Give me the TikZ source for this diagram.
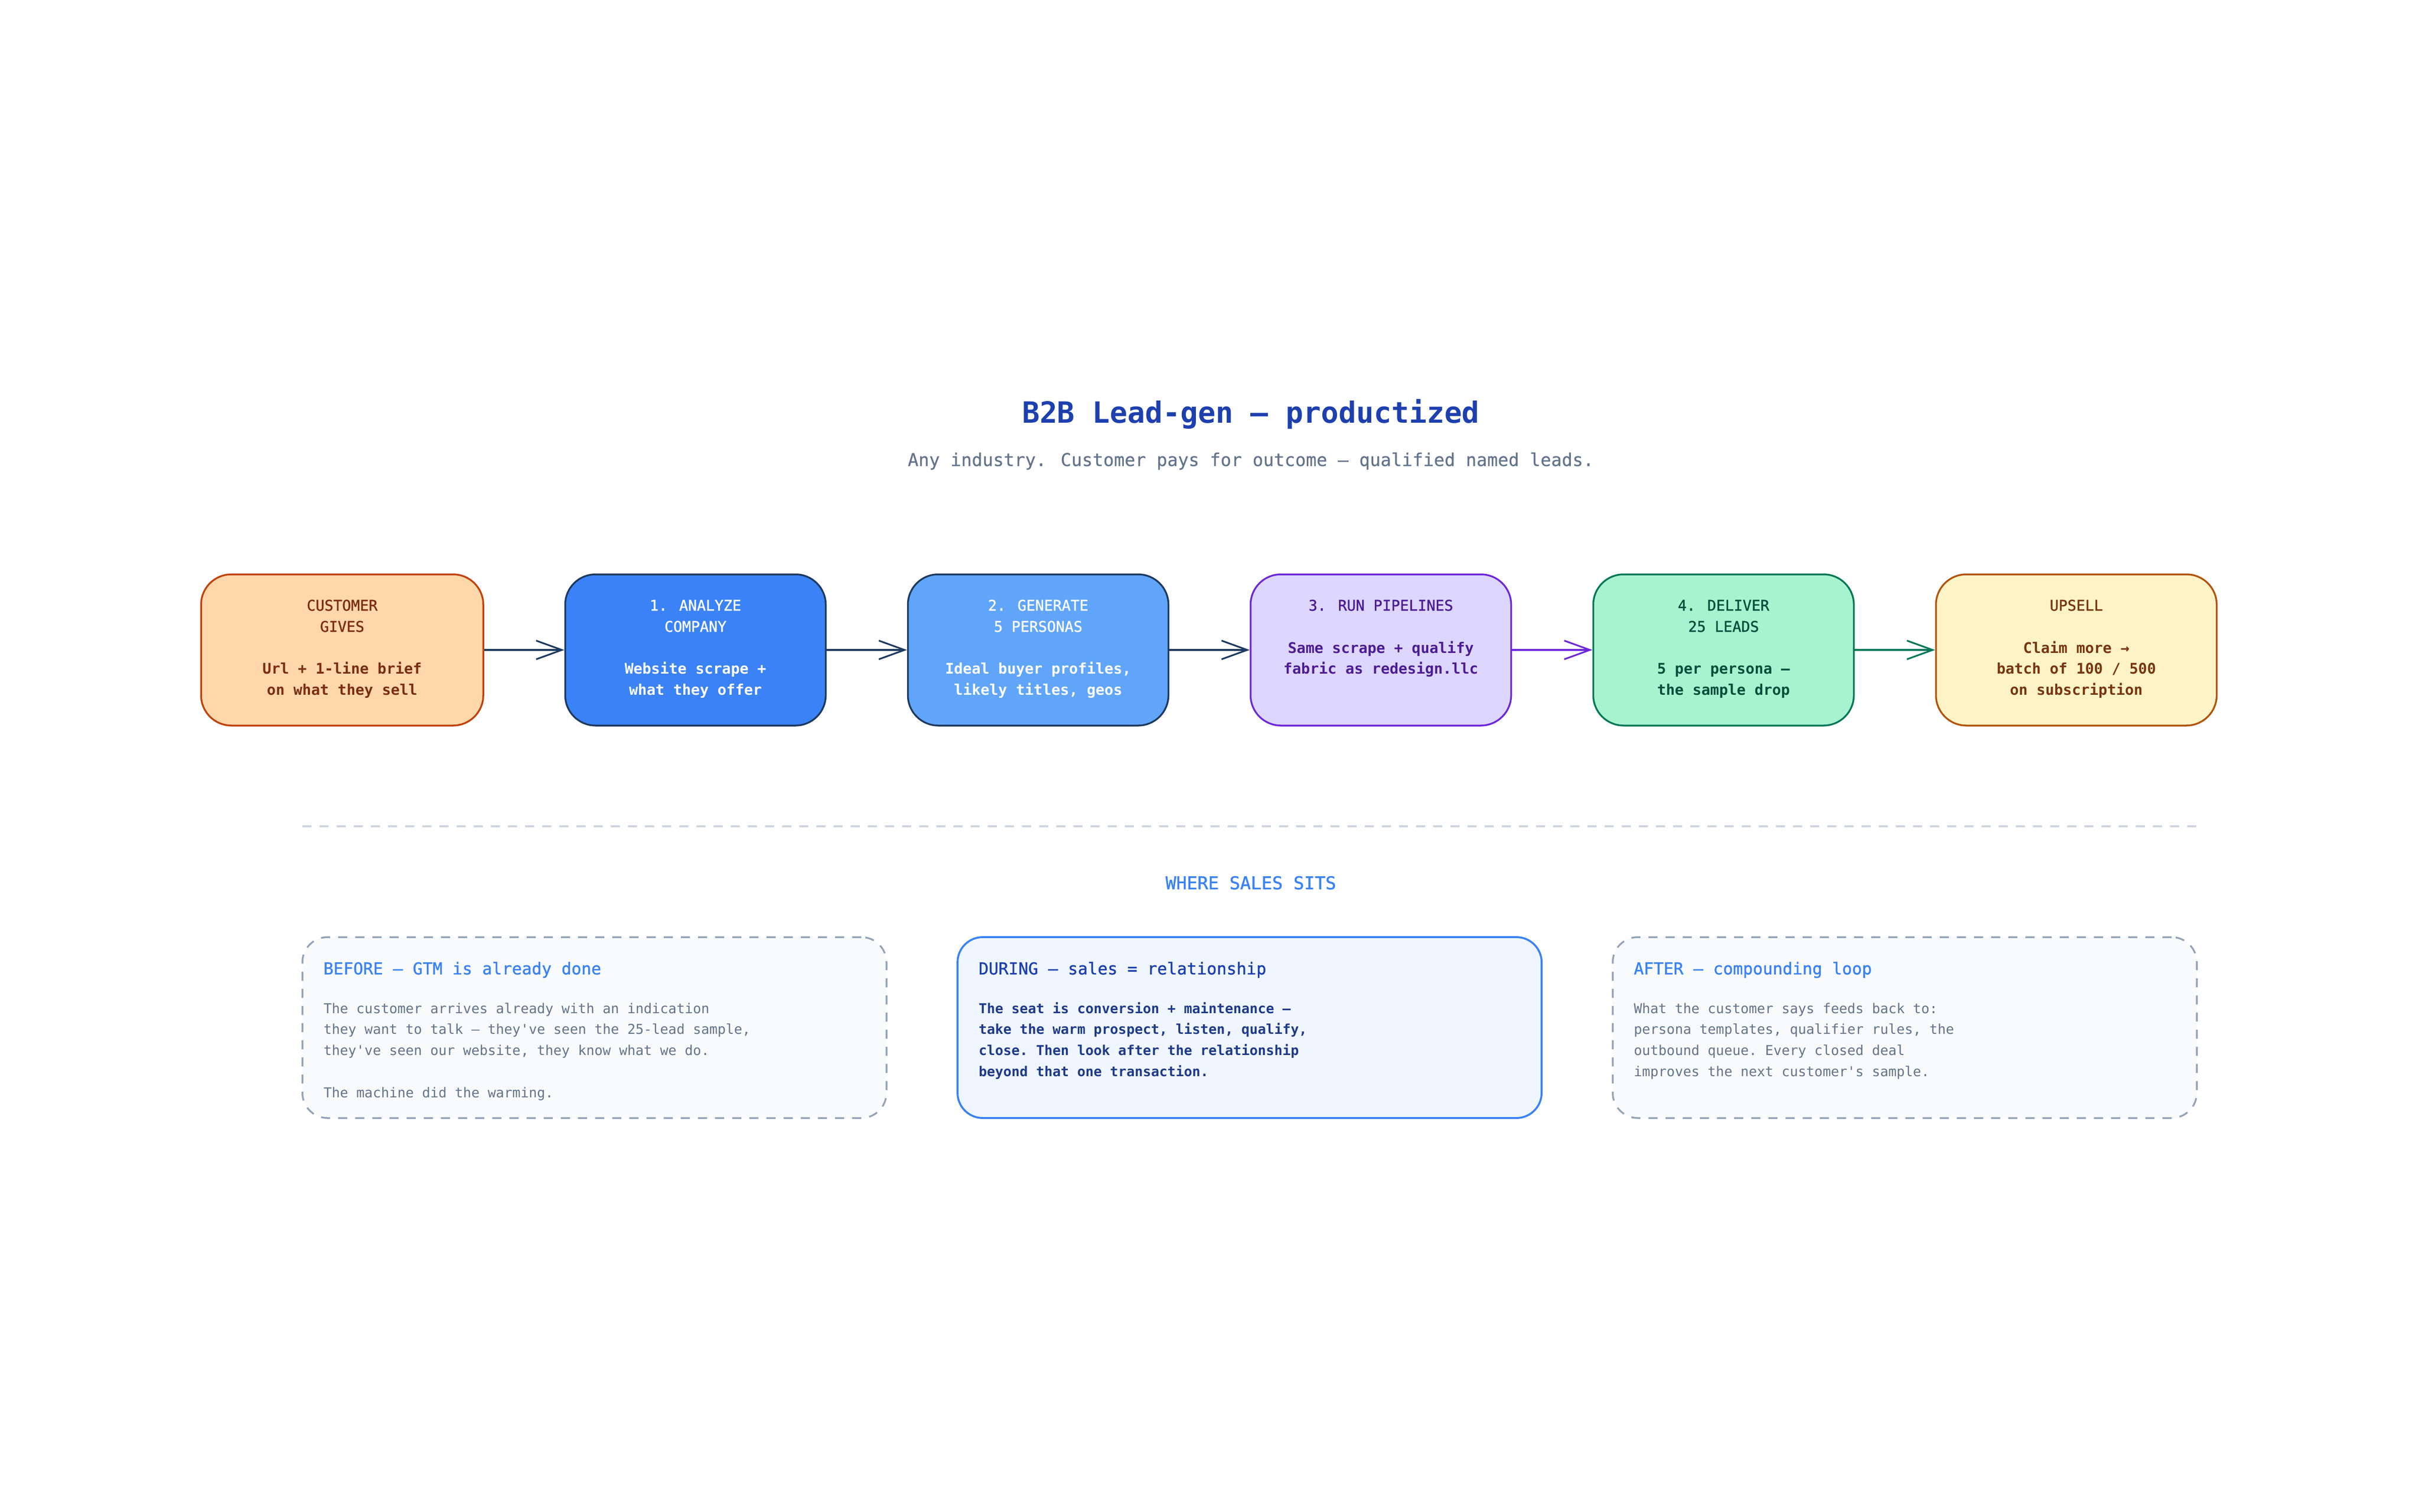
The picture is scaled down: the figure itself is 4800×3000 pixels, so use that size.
\documentclass[tikz,border=0pt]{standalone}
\usepackage{fontspec}
\setmonofont{DejaVu Sans Mono}
\newfontfamily\monomed[FakeBold=1.2]{DejaVu Sans Mono}
\newfontfamily\monolight[FakeBold=0.5]{DejaVu Sans Mono}
\usetikzlibrary{arrows.meta}
\definecolor{cTitle}{HTML}{1E40AF}
\definecolor{cSub}{HTML}{64748B}
\definecolor{cWhere}{HTML}{3B82F6}
\definecolor{cDivider}{HTML}{CBD5E1}
\definecolor{cNavy}{HTML}{1E3A5F}
\definecolor{cGivesFill}{HTML}{FED7AA}
\definecolor{cGivesLine}{HTML}{C2410C}
\definecolor{cGivesText}{HTML}{7C2D12}
\definecolor{cAnaFill}{HTML}{3B82F6}
\definecolor{cGenFill}{HTML}{60A5FA}
\definecolor{cRunFill}{HTML}{DDD6FE}
\definecolor{cRunLine}{HTML}{6D28D9}
\definecolor{cRunText}{HTML}{4C1D95}
\definecolor{cDelFill}{HTML}{A7F3D0}
\definecolor{cDelLine}{HTML}{047857}
\definecolor{cDelText}{HTML}{064E3B}
\definecolor{cUpFill}{HTML}{FEF3C7}
\definecolor{cUpLine}{HTML}{B45309}
\definecolor{cUpText}{HTML}{78350F}
\definecolor{cSoftFill}{HTML}{F8FAFC}
\definecolor{cSoftLine}{HTML}{94A3B8}
\definecolor{cDurFill}{HTML}{EFF6FF}
\definecolor{cDurHead}{HTML}{1E40AF}
\definecolor{cDurText}{HTML}{1E3A8A}
\tikzset{
  txt/.style={inner sep=0pt, outer sep=0pt},
  flowbox/.style={draw, rounded corners=6mm, line width=1pt, minimum width=51.7mm, minimum height=30mm, inner sep=0pt},
  salesbox/.style={draw, rounded corners=5mm, line width=1pt, minimum width=115.9mm, minimum height=35.9mm, inner sep=0pt},
  softbox/.style={salesbox, fill=cSoftFill, draw=cSoftLine, dash pattern=on 1.8mm off 1.6mm},
  flowarrow/.style={line width=0.95pt, -{Straight Barb[length=5.1mm,width=3.7mm]}},
  fhead/.style={txt, anchor=base, font=\monomed\fontsize{8.3}{10}\selectfont},
  fbody/.style={txt, anchor=base, font=\ttfamily\bfseries\fontsize{8.3}{10}\selectfont},
  shead/.style={txt, anchor=base west, font=\monomed\fontsize{9.3}{11}\selectfont},
  sbody/.style={txt, anchor=base west, font=\ttfamily\fontsize{7.7}{9}\selectfont},
  sbodyb/.style={txt, anchor=base west, font=\ttfamily\bfseries\fontsize{7.7}{9}\selectfont}
}
\begin{document}
\begin{tikzpicture}[x=0.1mm,y=-0.1mm]
\fill[white] (0,0) rectangle (4800,3000);
\useasboundingbox (0,0) rectangle (4800,3000);

% title
\node[txt, anchor=base, text=cTitle, font=\ttfamily\bfseries\fontsize{16.5}{20}\selectfont] (title) at (2482,839) {B2B Lead-gen — productized};
\node[txt, anchor=base, text=cSub, font=\monolight\fontsize{10}{12}\selectfont] (subtitle) at (2482,925) {Any industry. Customer pays for outcome — qualified named leads.};

% flow boxes
\node[flowbox, fill=cGivesFill, draw=cGivesLine, minimum width=56mm] (gives) at (679,1290) {};
\node[flowbox, fill=cAnaFill, draw=cNavy] (analyze) at (1380,1290) {};
\node[flowbox, fill=cGenFill, draw=cNavy] (generate) at (2060,1290) {};
\node[flowbox, fill=cRunFill, draw=cRunLine] (run) at (2740,1290) {};
\node[flowbox, fill=cDelFill, draw=cDelLine] (deliver) at (3420,1290) {};
\node[flowbox, fill=cUpFill, draw=cUpLine, minimum width=55.7mm] (upsell) at (4120,1290) {};

% flow arrows
\draw[flowarrow, draw=cNavy] (gives.east) -- (analyze.west);
\draw[flowarrow, draw=cNavy] (analyze.east) -- (generate.west);
\draw[flowarrow, draw=cNavy] (generate.east) -- (run.west);
\draw[flowarrow, draw=cRunLine] (run.east) -- (deliver.west);
\draw[flowarrow, draw=cDelLine] (deliver.east) -- (upsell.west);

% flow texts
\node[fhead, text=cGivesText] (g1) at (679,1212) {CUSTOMER};
\node[fhead, text=cGivesText] (g2) at (679,1254) {GIVES};
\node[fbody, text=cGivesText] (g4) at (679,1337) {Url + 1-line brief};
\node[fbody, text=cGivesText] (g5) at (679,1379) {on what they sell};

\node[fhead, text=white] (a1) at (1380,1212) {1. ANALYZE};
\node[fhead, text=white] (a2) at (1380,1254) {COMPANY};
\node[fbody, text=white] (a4) at (1380,1337) {Website scrape +};
\node[fbody, text=white] (a5) at (1380,1379) {what they offer};

\node[fhead, text=white] (e1) at (2060,1212) {2. GENERATE};
\node[fhead, text=white] (e2) at (2060,1254) {5 PERSONAS};
\node[fbody, text=white] (e4) at (2060,1337) {Ideal buyer profiles,};
\node[fbody, text=white] (e5) at (2060,1379) {likely titles, geos};

\node[fhead, text=cRunText] (r1) at (2740,1212) {3. RUN PIPELINES};
\node[fbody, text=cRunText] (r3) at (2740,1296) {Same scrape + qualify};
\node[fbody, text=cRunText] (r4) at (2740,1337) {fabric as redesign.llc};

\node[fhead, text=cDelText] (d1) at (3420,1212) {4. DELIVER};
\node[fhead, text=cDelText] (d2) at (3420,1254) {25 LEADS};
\node[fbody, text=cDelText] (d4) at (3420,1337) {5 per persona —};
\node[fbody, text=cDelText] (d5) at (3420,1379) {the sample drop};

\node[fhead, text=cUpText] (u1) at (4120,1212) {UPSELL};
\node[fbody, text=cUpText] (u3) at (4120,1296) {Claim more →};
\node[fbody, text=cUpText] (u4) at (4120,1337) {batch of 100 / 500};
\node[fbody, text=cUpText] (u5) at (4120,1379) {on subscription};

% divider
\coordinate (divL) at (600,1640);
\coordinate (divR) at (4359,1640);
\draw[draw=cDivider, line width=0.95pt, dash pattern=on 1.8mm off 1.6mm] (divL) -- (divR);

\node[txt, anchor=base, text=cWhere, font=\monomed\fontsize{10}{12}\selectfont] (where) at (2482,1765) {WHERE SALES SITS};

% sales boxes
\node[softbox] (before) at (1179.5,2039.5) {};
\node[salesbox, fill=cDurFill, draw=cWhere, line width=1.1pt] (during) at (2479.5,2039.5) {};
\node[softbox] (after) at (3779.5,2039.5) {};

\node[shead, text=cWhere] (b0) at (642,1934) {BEFORE — GTM is already done};
\node[sbody, text=cSub] (b1) at (642,2011) {The customer arrives already with an indication};
\node[sbody, text=cSub] (b2) at (642,2052) {they want to talk — they've seen the 25-lead sample,};
\node[sbody, text=cSub] (b3) at (642,2094) {they've seen our website, they know what we do.};
\node[sbody, text=cSub] (b5) at (642,2178) {The machine did the warming.};

\node[shead, text=cDurHead] (m0) at (1942,1934) {DURING — sales = relationship};
\node[sbodyb, text=cDurText] (m1) at (1942,2011) {The seat is conversion + maintenance —};
\node[sbodyb, text=cDurText] (m2) at (1942,2052) {take the warm prospect, listen, qualify,};
\node[sbodyb, text=cDurText] (m3) at (1942,2094) {close. Then look after the relationship};
\node[sbodyb, text=cDurText] (m4) at (1942,2136) {beyond that one transaction.};

\node[shead, text=cWhere] (f0) at (3242,1934) {AFTER — compounding loop};
\node[sbody, text=cSub] (f1) at (3242,2011) {What the customer says feeds back to:};
\node[sbody, text=cSub] (f2) at (3242,2052) {persona templates, qualifier rules, the};
\node[sbody, text=cSub] (f3) at (3242,2094) {outbound queue. Every closed deal};
\node[sbody, text=cSub] (f4) at (3242,2136) {improves the next customer's sample.};
\end{tikzpicture}
\end{document}
